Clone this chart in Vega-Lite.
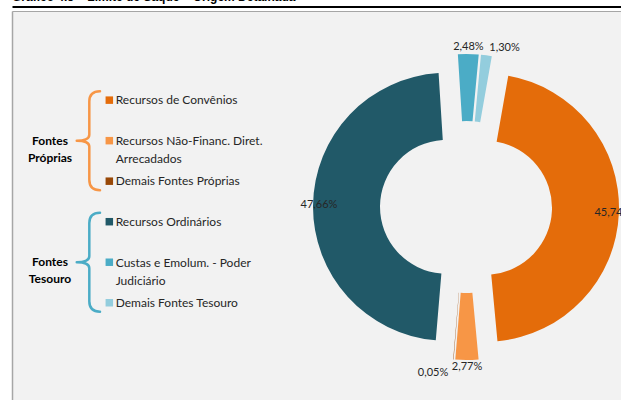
{
  "$schema": "https://vega.github.io/schema/vega-lite/v6.json",
  "width": 609,
  "height": 389,
  "autosize": "none",
  "padding": {"left": 12, "top": 11, "right": 0, "bottom": 0},
  "background": "white",
  "title": {
    "text": "Gráfico 4.5 – Limite de Saque – Origem Detalhada",
    "anchor": "start",
    "frame": "bounds",
    "offset": 1,
    "dy": 7,
    "baseline": "alphabetic",
    "font": "Liberation Sans",
    "fontSize": 12,
    "fontWeight": "bold",
    "color": "#000000"
  },
  "data": {
    "values": [
      {"fonte": "Recursos de Convênios", "grupo": "Fontes Próprias", "ordem": 1, "valor": 0.4574},
      {"fonte": "Recursos Não-Financ. Diret.\nArrecadados", "grupo": "Fontes Próprias", "ordem": 2, "valor": 0.0277},
      {"fonte": "Demais Fontes Próprias", "grupo": "Fontes Próprias", "ordem": 3, "valor": 0.0005},
      {"fonte": "Recursos Ordinários", "grupo": "Fontes Tesouro", "ordem": 4, "valor": 0.4766},
      {"fonte": "Custas e Emolum. - Poder\nJudiciário", "grupo": "Fontes Tesouro", "ordem": 5, "valor": 0.0248},
      {"fonte": "Demais Fontes Tesouro", "grupo": "Fontes Tesouro", "ordem": 6, "valor": 0.0130}
    ]
  },
  "layer": [
    {
      "mark": {
        "type": "arc",
        "innerRadius": 67,
        "outerRadius": 134,
        "xOffset": {"expr": "19*sin(scale('theta',(datum.valor_start+datum.valor_end)/2))"},
        "yOffset": {"expr": "-19*cos(scale('theta',(datum.valor_start+datum.valor_end)/2))"}
      },
      "encoding": {
        "x": {"datum": 74.55, "type": "quantitative", "scale": {"domain": [0, 100], "nice": false, "zero": false}},
        "y": {"datum": 3.637, "type": "quantitative", "scale": {"domain": [-1.2, 8.4], "reverse": true, "nice": false, "zero": false}},
        "theta": {"field": "valor", "type": "quantitative", "stack": true, "scale": {"range": [0.1745, 6.4577]}},
        "order": {"field": "ordem", "type": "quantitative"},
        "color": {
          "field": "fonte",
          "type": "nominal",
          "legend": null,
          "scale": {
            "domain": ["Recursos de Convênios", "Recursos Não-Financ. Diret.\nArrecadados", "Demais Fontes Próprias", "Recursos Ordinários", "Custas e Emolum. - Poder\nJudiciário", "Demais Fontes Tesouro"],
            "range": ["#E46C0A", "#F79646", "#984807", "#215968", "#4BACC6", "#93CDDD"]
          }
        }
      }
    },
    {
      "mark": {
        "type": "text",
        "font": "Lato",
        "fontSize": 11,
        "color": "#262626",
        "baseline": "middle",
        "radius": {"expr": "datum.valor > 0.1 ? 147 : (datum.valor < 0.001 ? 167 : 160)"},
        "align": {"expr": "datum.valor > 0.1 ? 'center' : (sin(scale('theta',(datum.valor_start+datum.valor_end)/2)) > 0.05 ? 'left' : (sin(scale('theta',(datum.valor_start+datum.valor_end)/2)) < -0.05 ? 'right' : 'center'))"},
        "dx": {"expr": "datum.valor > 0.1 ? 0 : (sin(scale('theta',(datum.valor_start+datum.valor_end)/2)) > 0.05 ? 2 : (sin(scale('theta',(datum.valor_start+datum.valor_end)/2)) < -0.05 ? -4 : 0))"}
      },
      "encoding": {
        "x": {"datum": 74.55, "type": "quantitative", "scale": {"domain": [0, 100], "nice": false, "zero": false}},
        "y": {"datum": 3.637, "type": "quantitative", "scale": {"domain": [-1.2, 8.4], "reverse": true, "nice": false, "zero": false}},
        "theta": {"field": "valor", "type": "quantitative", "stack": true, "scale": {"range": [0.1745, 6.4577]}},
        "order": {"field": "ordem", "type": "quantitative"},
        "text": {"field": "valor", "type": "quantitative", "format": ".2%"}
      }
    },
    {
      "mark": {"type": "point", "shape": "square", "filled": true, "size": 56, "opacity": 1},
      "encoding": {
        "x": {"datum": 15.98, "type": "quantitative", "scale": {"domain": [0, 100], "nice": false, "zero": false}},
        "y": {"field": "ordem", "type": "quantitative", "scale": {"domain": [-1.2, 8.4], "reverse": true, "nice": false, "zero": false}},
        "color": {"field": "fonte", "type": "nominal", "legend": null}
      }
    },
    {
      "mark": {"type": "text", "font": "Lato", "fontSize": 12, "color": "#262626", "align": "left", "baseline": "alphabetic", "dy": 4.3, "lineBreak": "\n", "lineHeight": 18},
      "encoding": {
        "x": {
          "datum": 17.03, "type": "quantitative",
          "scale": {"domain": [0, 100], "nice": false, "zero": false},
          "axis": {"orient": "top", "offset": 4.5, "domain": true, "domainColor": "#000000", "domainWidth": 2.2, "ticks": false, "labels": false, "grid": false, "title": null}
        },
        "y": {
          "field": "ordem", "type": "quantitative",
          "scale": {"domain": [-1.2, 8.4], "reverse": true, "nice": false, "zero": false},
          "axis": {"orient": "left", "domain": true, "domainColor": "#A6A6A6", "domainWidth": 1.5, "ticks": false, "labels": false, "grid": true, "gridColor": "#A6A6A6", "gridWidth": 1, "gridOpacity": 1, "values": [-1.2], "title": null}
        },
        "text": {"field": "fonte", "type": "nominal"}
      }
    },
    {
      "transform": [{"aggregate": [{"op": "mean", "field": "ordem", "as": "meio"}], "groupby": ["grupo"]}],
      "mark": {
        "type": "point",
        "filled": false,
        "size": 9801,
        "strokeWidth": 2.5,
        "strokeCap": "round",
        "strokeJoin": "round",
        "opacity": 1,
        "shape": "M 0.235 -1 Q 0.019 -1 0.019 -0.79 L 0.019 -0.12 Q 0.019 0 -0.235 0 Q 0.019 0 0.019 0.12 L 0.019 0.79 Q 0.019 1 0.235 1"
      },
      "encoding": {
        "x": {"datum": 12.54, "type": "quantitative", "scale": {"domain": [0, 100], "nice": false, "zero": false}},
        "y": {"field": "meio", "type": "quantitative", "scale": {"domain": [-1.2, 8.4], "reverse": true, "nice": false, "zero": false}},
        "stroke": {"field": "grupo", "type": "nominal", "legend": null, "scale": {"domain": ["Fontes Próprias", "Fontes Tesouro"], "range": ["#F79646", "#4BACC6"]}}
      }
    },
    {
      "transform": [{"aggregate": [{"op": "mean", "field": "ordem", "as": "meio"}], "groupby": ["grupo"]}],
      "mark": {"type": "text", "font": "Lato", "fontSize": 12, "fontWeight": "bold", "color": "#000000", "align": "center", "baseline": "middle", "lineBreak": " ", "lineHeight": 17},
      "encoding": {
        "x": {"datum": 6.24, "type": "quantitative", "scale": {"domain": [0, 100], "nice": false, "zero": false}},
        "y": {"field": "meio", "type": "quantitative", "scale": {"domain": [-1.2, 8.4], "reverse": true, "nice": false, "zero": false}},
        "text": {"field": "grupo", "type": "nominal"}
      }
    }
  ],
  "config": {
    "view": {"fill": "#F2F2F2", "stroke": null},
    "locale": {"number": {"decimal": ",", "thousands": ".", "grouping": [3], "currency": ["R$ ", ""]}}
  }
}
